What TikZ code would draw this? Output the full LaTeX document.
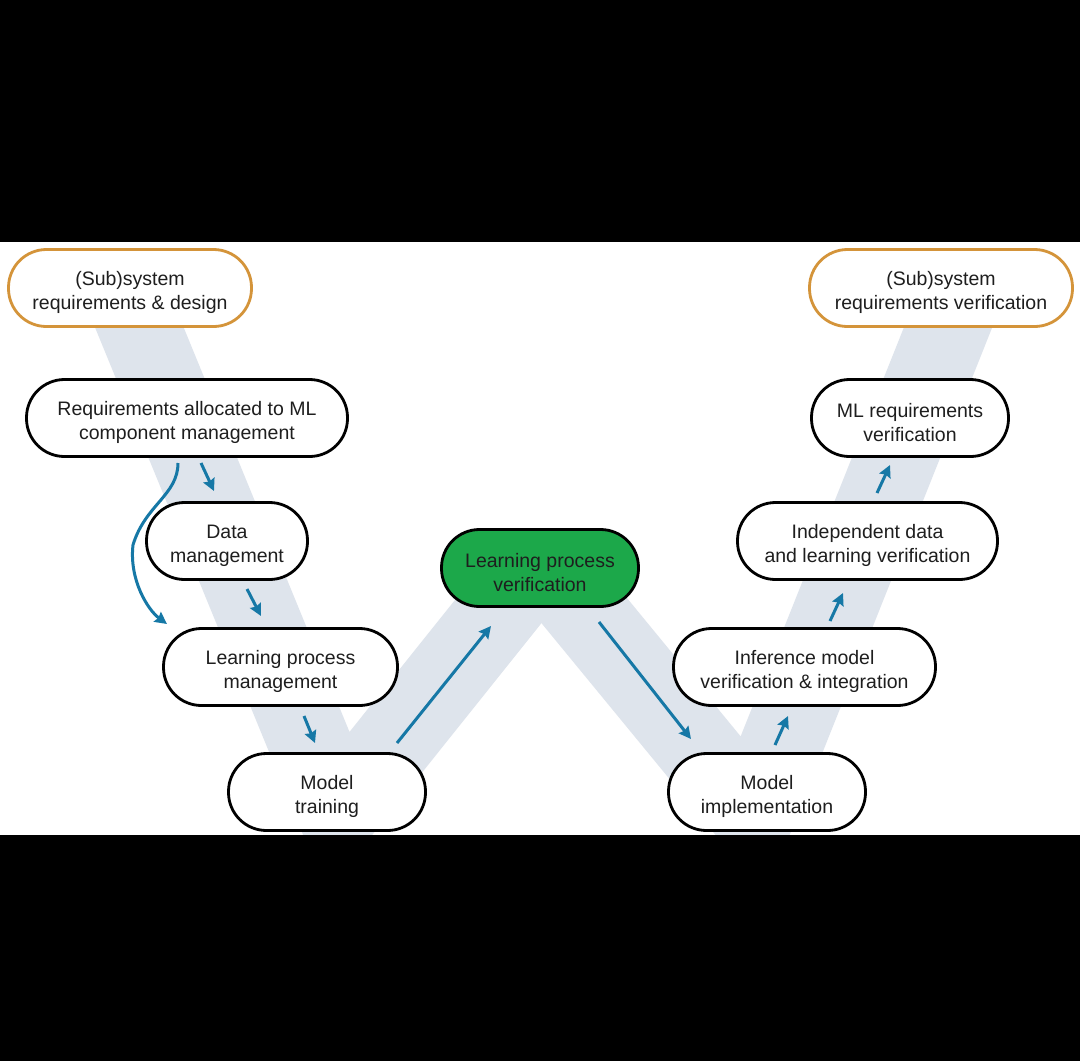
\documentclass[tikz,border=0pt]{standalone}
\usepackage{fontspec}
\setmainfont{Liberation Sans}
\usetikzlibrary{arrows.meta}
\definecolor{bandc}{RGB}{222,228,236}
\definecolor{orangec}{RGB}{212,148,58}
\definecolor{greenc}{RGB}{28,168,74}
\definecolor{bluec}{RGB}{22,120,166}
\definecolor{txtc}{RGB}{30,30,30}
\newcommand\topstrut{\rule{0pt}{23pt}}
\tikzset{
  box/.style={draw=black, line width=2.8pt, fill=white, rounded corners=38pt,
    minimum height=77pt, inner sep=0pt, align=center,
    font=\fontsize{19.5}{23.5}\selectfont, text=txtc},
  sysbox/.style={box, draw=orangec},
  greenbox/.style={box, fill=greenc},
  flow/.style={draw=bluec, line width=3pt, -{Stealth[length=12pt,width=12pt,inset=1.5pt]}},
  band/.style={draw=bandc, line width=82pt, line cap=butt, line join=miter}
}
\begin{document}
\begin{tikzpicture}[x=1pt,y=-1pt]
\useasboundingbox (0,0) rectangle (1080,1061);
\fill[white] (0,0) rectangle (1080,1061);
% V band
\draw[band] (124,290) -- (338,812) -- (541,558);
\draw[band] (541,558) -- (753,816) -- (963,290);
% black bands
\fill[black] (0,0) rectangle (1080,242);
\fill[black] (0,835) rectangle (1080,1061);
% nodes
\node[sysbox, minimum width=243pt] (n1) at (130,288) {\topstrut(Sub)system\\requirements \& design};
\node[box, minimum width=321pt] (n2) at (187,418) {\topstrut Requirements allocated to ML\\component management};
\node[box, minimum width=161pt] (n3) at (227,541) {\topstrut Data\\management};
\node[box, minimum width=234pt] (n4) at (280.5,667) {\topstrut Learning process\\management};
\node[box, minimum width=197pt] (n5) at (327,792) {\topstrut Model\\training};
\node[greenbox, minimum width=197pt] (n6) at (540,568) {\topstrut Learning process\\verification};
\node[box, minimum width=197pt] (n7) at (767,792) {\topstrut Model\\implementation};
\node[box, minimum width=262pt] (n8) at (804.5,667) {\topstrut Inference model\\verification \& integration};
\node[box, minimum width=260pt] (n9) at (867.5,541) {\topstrut Independent data\\and learning verification};
\node[box, minimum width=197pt] (n10) at (910,418) {\topstrut ML requirements\\verification};
\node[sysbox, minimum width=263pt] (n11) at (941,288) {\topstrut(Sub)system\\requirements verification};
% arrow end points
\coordinate (a1s) at (178,463); \coordinate (a1e) at (167,624);
\coordinate (a2s) at (201,463); \coordinate (a2e) at (214,491);
\coordinate (a3s) at (247,589); \coordinate (a3e) at (261,616);
\coordinate (a4s) at (304,716); \coordinate (a4e) at (315,743);
\coordinate (a5s) at (397,743); \coordinate (a5e) at (491,626);
\coordinate (a6s) at (599,622); \coordinate (a6e) at (691,739);
\coordinate (a7s) at (775,745); \coordinate (a7e) at (788,716);
\coordinate (a8s) at (830,621); \coordinate (a8e) at (843,593);
\coordinate (a9s) at (877,493); \coordinate (a9e) at (890,465);
% arrows
\draw[flow] (a1s) .. controls (178,495) and (145,505) .. (133,545)
                  .. controls (129,580) and (148,610) .. (a1e);
\draw[flow] (a2s) -- (a2e);
\draw[flow] (a3s) -- (a3e);
\draw[flow] (a4s) -- (a4e);
\draw[flow] (a5s) -- (a5e);
\draw[flow] (a6s) -- (a6e);
\draw[flow] (a7s) -- (a7e);
\draw[flow] (a8s) -- (a8e);
\draw[flow] (a9s) -- (a9e);
\end{tikzpicture}
\end{document}
